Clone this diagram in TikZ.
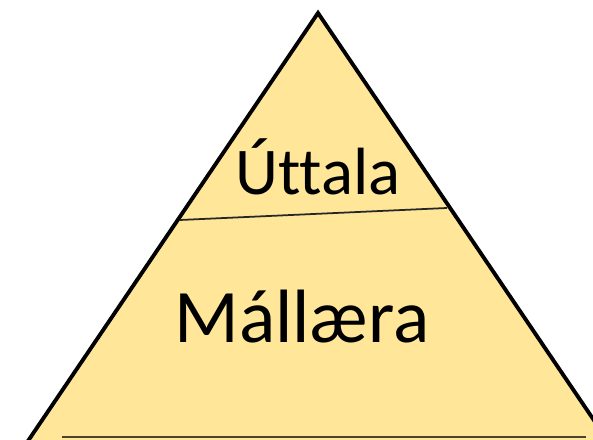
\documentclass[tikz,border=0pt]{standalone}
\usepackage{fontspec}
\setmainfont{Carlito}[Ligatures={NoCommon}]
\usetikzlibrary{positioning}

\definecolor{pyrfill}{RGB}{255,230,153}

\begin{document}
\begin{tikzpicture}[%
       x=0.01cm,
       y=-0.01cm,
       layer/.style={font=\fontsize{19}{22}\selectfont, inner sep=0pt, anchor=base},
       base/.style={font=\fontsize{21.5}{26}\selectfont, inner sep=0pt, anchor=base},
       divider/.style={line width=0.5pt, draw=black!85}
     ]
     \useasboundingbox (0,0) rectangle (593,440);
     \begin{scope}
     \clip (0,0) rectangle (593,440);
     \filldraw[fill=pyrfill, draw=black, line width=1.1pt, line join=miter]
        (318,13) -- (-12,500) -- (648,500) -- cycle;
     \end{scope}

     \coordinate (dl) at (180,220);
     \coordinate (dr) at (447,208);
     \coordinate (bl) at (62,437);
     \coordinate (br) at (586,437);
     \draw[divider] (dl) -- (dr);
     \draw[line width=0.6pt, draw=black!70!pyrfill] (bl) -- (br);

     \node[layer] (uttala)  at (318,195) {Úttala};
     \node[base]  (mallaera) at (302,343) {Mállæra};
\end{tikzpicture}
\end{document}
